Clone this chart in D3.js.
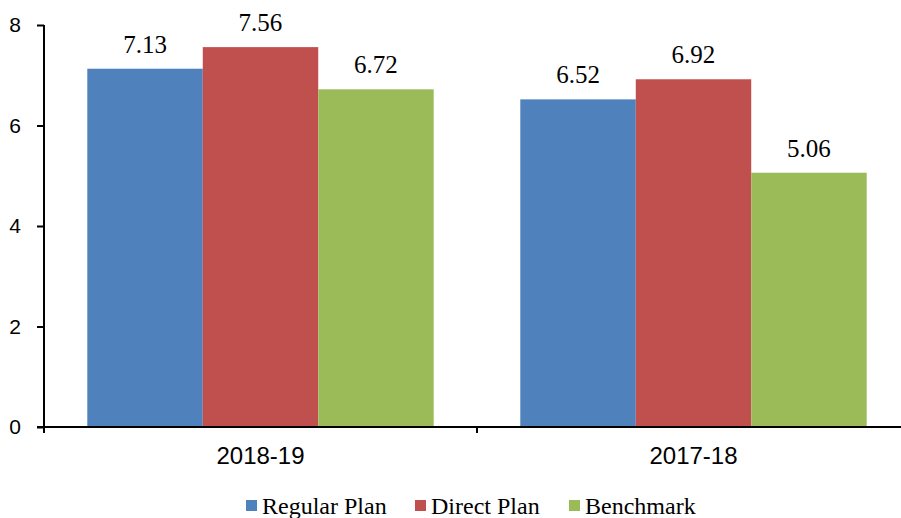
<!DOCTYPE html>
<html>
<head>
<meta charset="utf-8">
<script src="https://cdn.jsdelivr.net/npm/d3@7"></script>
<style>
  body { margin: 0; background: #fff; }
</style>
</head>
<body>
<svg></svg>
<script>
var width = 901;
var height = 518;

var categories = ["2018-19", "2017-18"];
var seriesNames = ["Regular Plan", "Direct Plan", "Benchmark"];
var regularPlan = [7.13, 6.52];
var directPlan = [7.56, 6.92];
var benchmark = [6.72, 5.06];
var yTicks = [0, 2, 4, 6, 8];
var colors = ["#4F81BD", "#C0504D", "#9BBB59"];

var seriesValues = [regularPlan, directPlan, benchmark];

var svg = d3.select("svg")
  .attr("width", width)
  .attr("height", height);

var x0 = d3.scaleBand()
  .domain(categories)
  .range([44, 910])
  .paddingInner(0.2)
  .paddingOuter(0.1);

var x1 = d3.scaleBand()
  .domain(seriesNames)
  .range([0, x0.bandwidth()]);

var y = d3.scaleLinear()
  .domain([0, 8])
  .range([427, 25]);

// bars
var groups = svg.selectAll("g.group")
  .data(categories)
  .enter()
  .append("g")
    .attr("class", "group")
    .attr("transform", d => "translate(" + x0(d) + ",0)");

groups.selectAll("rect")
  .data((d, i) => seriesNames.map((s, j) => ({ s: s, v: seriesValues[j][i], c: colors[j] })))
  .enter()
  .append("rect")
    .attr("x", d => x1(d.s))
    .attr("y", d => y(d.v))
    .attr("width", x1.bandwidth())
    .attr("height", d => y(0) - y(d.v))
    .attr("fill", d => d.c);

groups.selectAll("text")
  .data((d, i) => seriesNames.map((s, j) => ({ s: s, v: seriesValues[j][i] })))
  .enter()
  .append("text")
    .attr("x", d => x1(d.s) + x1.bandwidth() / 2)
    .attr("y", d => y(d.v) - 16)
    .attr("text-anchor", "middle")
    .style("font-family", "'Liberation Serif', 'Times New Roman', serif")
    .style("font-size", "25px")
    .text(d => d.v.toFixed(2));

// y axis
var yAxis = svg.append("g")
  .attr("transform", "translate(44,0)")
  .call(d3.axisLeft(y).tickValues(yTicks).tickSize(7).tickPadding(16));
yAxis.select(".domain").attr("d", "M0," + y(8) + "V" + y(0)).attr("stroke", "#000").attr("stroke-width", 2);
yAxis.selectAll(".tick line").attr("stroke", "#000").attr("stroke-width", 2);
yAxis.selectAll(".tick text")
  .style("font-family", "'Liberation Sans', Arial, sans-serif")
  .style("font-size", "21px")
  .attr("fill", "#000");

// x axis
var xAxisG = svg.append("g").attr("transform", "translate(0," + y(0) + ")");
xAxisG.append("line")
  .attr("x1", 37).attr("x2", width)
  .attr("stroke", "#000").attr("stroke-width", 2);
var boundaries = [x0.range()[0], x0(categories[1]) - x0.step() * x0.paddingInner() / 2];
xAxisG.selectAll("line.sep")
  .data(boundaries)
  .enter()
  .append("line")
    .attr("class", "sep")
    .attr("x1", d => d).attr("x2", d => d)
    .attr("y1", 0).attr("y2", 6)
    .attr("stroke", "#000").attr("stroke-width", 2);
xAxisG.selectAll("text")
  .data(categories)
  .enter()
  .append("text")
    .attr("x", d => x0(d) + x0.bandwidth() / 2)
    .attr("y", 37)
    .attr("text-anchor", "middle")
    .style("font-family", "'Liberation Sans', Arial, sans-serif")
    .style("font-size", "24px")
    .text(d => d);

// legend
var legendX = [246, 415, 569];
var legend = svg.selectAll("g.legend")
  .data(seriesNames)
  .enter()
  .append("g")
    .attr("class", "legend")
    .attr("transform", (d, i) => "translate(" + legendX[i] + ",500)");
legend.append("rect")
  .attr("width", 11).attr("height", 11)
  .attr("fill", (d, i) => colors[i]);
legend.append("text")
  .attr("x", 16).attr("y", 14)
  .style("font-family", "'Liberation Serif', 'Times New Roman', serif")
  .style("font-size", "24px")
  .text(d => d);
</script>
</body>
</html>
